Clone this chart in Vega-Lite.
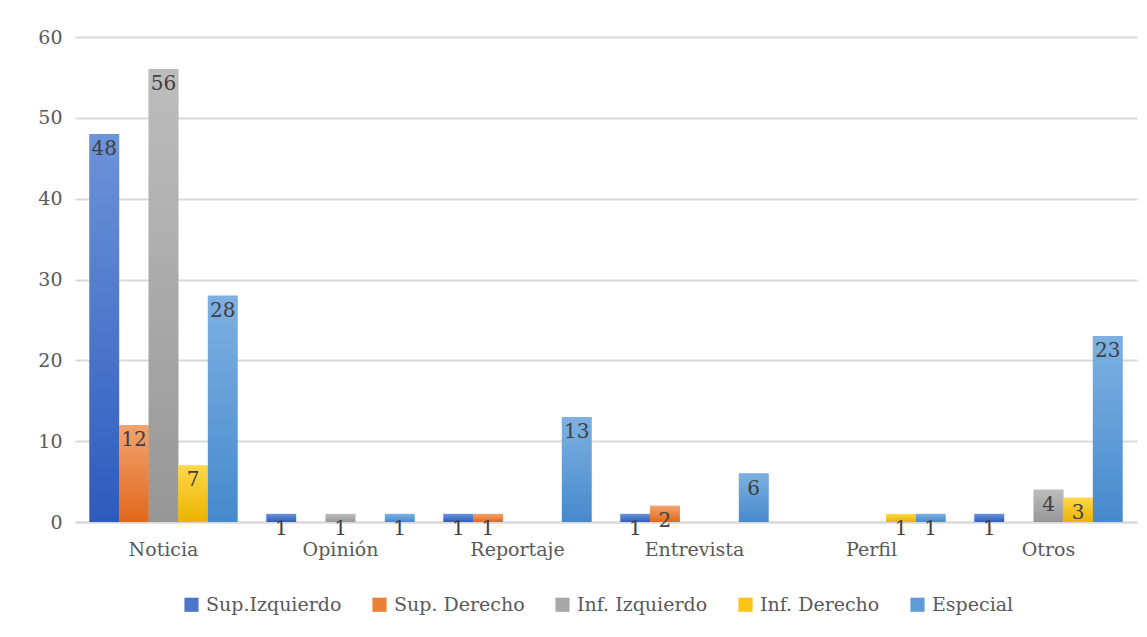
{
  "$schema": "https://vega.github.io/schema/vega-lite/v6.json",
  "width": 1062,
  "height": 485,
  "autosize": {"type": "none"},
  "padding": {"left": 75, "top": 37, "right": 10, "bottom": 115},
  "background": "white",
  "config": {
    "view": {"stroke": null},
    "font": "DejaVu Serif"
  },
  "data": {
    "values": [
      {"tipo": "Noticia", "serie": "Sup.Izquierdo", "valor": 48},
      {"tipo": "Noticia", "serie": "Sup. Derecho", "valor": 12},
      {"tipo": "Noticia", "serie": "Inf. Izquierdo", "valor": 56},
      {"tipo": "Noticia", "serie": "Inf. Derecho", "valor": 7},
      {"tipo": "Noticia", "serie": "Especial", "valor": 28},
      {"tipo": "Opinión", "serie": "Sup.Izquierdo", "valor": 1},
      {"tipo": "Opinión", "serie": "Inf. Izquierdo", "valor": 1},
      {"tipo": "Opinión", "serie": "Especial", "valor": 1},
      {"tipo": "Reportaje", "serie": "Sup.Izquierdo", "valor": 1},
      {"tipo": "Reportaje", "serie": "Sup. Derecho", "valor": 1},
      {"tipo": "Reportaje", "serie": "Especial", "valor": 13},
      {"tipo": "Entrevista", "serie": "Sup.Izquierdo", "valor": 1},
      {"tipo": "Entrevista", "serie": "Sup. Derecho", "valor": 2},
      {"tipo": "Entrevista", "serie": "Especial", "valor": 6},
      {"tipo": "Perfil", "serie": "Inf. Derecho", "valor": 1},
      {"tipo": "Perfil", "serie": "Especial", "valor": 1},
      {"tipo": "Otros", "serie": "Sup.Izquierdo", "valor": 1},
      {"tipo": "Otros", "serie": "Inf. Izquierdo", "valor": 4},
      {"tipo": "Otros", "serie": "Inf. Derecho", "valor": 3},
      {"tipo": "Otros", "serie": "Especial", "valor": 23}
    ]
  },
  "encoding": {
    "x": {
      "field": "tipo", "type": "nominal",
      "sort": ["Noticia", "Opinión", "Reportaje", "Entrevista", "Perfil", "Otros"],
      "scale": {"paddingInner": 0.164, "paddingOuter": 0.082},
      "axis": {
        "title": null, "labelAngle": 0, "ticks": false,
        "domainColor": "#d9d9d9", "domainWidth": 2,
        "labelFontSize": 19, "labelColor": "#595959", "labelPadding": 18,
        "labelFont": "DejaVu Serif"
      }
    },
    "xOffset": {
      "field": "serie", "type": "nominal",
      "scale": {"domain": ["Sup.Izquierdo", "Sup. Derecho", "Inf. Izquierdo", "Inf. Derecho", "Especial"], "paddingInner": 0, "paddingOuter": 0}
    },
    "y": {
      "field": "valor", "type": "quantitative",
      "scale": {"domain": [0, 60]},
      "axis": {
        "title": null, "values": [0, 10, 20, 30, 40, 50, 60],
        "domain": false, "ticks": false,
        "gridColor": "#d9d9d9", "gridWidth": 2,
        "labelFontSize": 19, "labelColor": "#595959", "labelPadding": 13,
        "labelFont": "DejaVu Serif"
      }
    }
  },
  "layer": [
    {
      "mark": {"type": "bar"},
      "encoding": {
        "color": {
          "field": "serie", "type": "nominal",
          "scale": {
            "domain": ["Sup.Izquierdo", "Sup. Derecho", "Inf. Izquierdo", "Inf. Derecho", "Especial"],
            "range": ["#4a76cc", "#ec7f36", "#a8a8a8", "#fcc415", "#5e9bd8"]
          },
          "legend": {
            "title": null, "orient": "none", "direction": "horizontal", "columns": 5,
            "legendX": 107, "legendY": 558,
            "symbolType": "square", "symbolSize": 200, "symbolStrokeWidth": 0,
            "labelFontSize": 19, "labelColor": "#595959", "labelFont": "DejaVu Serif",
            "labelOffset": 5, "columnPadding": 28
          }
        }
      }
    },
    {"transform": [{"filter": "datum.serie === 'Sup.Izquierdo'"}], "mark": {"type": "bar", "color": {"gradient": "linear", "x1": 0, "y1": 0, "x2": 0, "y2": 1, "stops": [{"offset": 0, "color": "#6d94d8"}, {"offset": 1, "color": "#2d5bbd"}]}}},
    {"transform": [{"filter": "datum.serie === 'Sup. Derecho'"}], "mark": {"type": "bar", "color": {"gradient": "linear", "x1": 0, "y1": 0, "x2": 0, "y2": 1, "stops": [{"offset": 0, "color": "#f4a36f"}, {"offset": 1, "color": "#e0681b"}]}}},
    {"transform": [{"filter": "datum.serie === 'Inf. Izquierdo'"}], "mark": {"type": "bar", "color": {"gradient": "linear", "x1": 0, "y1": 0, "x2": 0, "y2": 1, "stops": [{"offset": 0, "color": "#bdbdbd"}, {"offset": 1, "color": "#979797"}]}}},
    {"transform": [{"filter": "datum.serie === 'Inf. Derecho'"}], "mark": {"type": "bar", "color": {"gradient": "linear", "x1": 0, "y1": 0, "x2": 0, "y2": 1, "stops": [{"offset": 0, "color": "#ffd84a"}, {"offset": 1, "color": "#e9b300"}]}}},
    {"transform": [{"filter": "datum.serie === 'Especial'"}], "mark": {"type": "bar", "color": {"gradient": "linear", "x1": 0, "y1": 0, "x2": 0, "y2": 1, "stops": [{"offset": 0, "color": "#7eb1e2"}, {"offset": 1, "color": "#4689cc"}]}}},
    {
      "mark": {"type": "text", "baseline": "middle", "dy": 15, "fontSize": 20, "color": "#404040", "font": "DejaVu Serif"},
      "encoding": {
        "text": {"field": "valor", "type": "quantitative"}
      }
    }
  ]
}
